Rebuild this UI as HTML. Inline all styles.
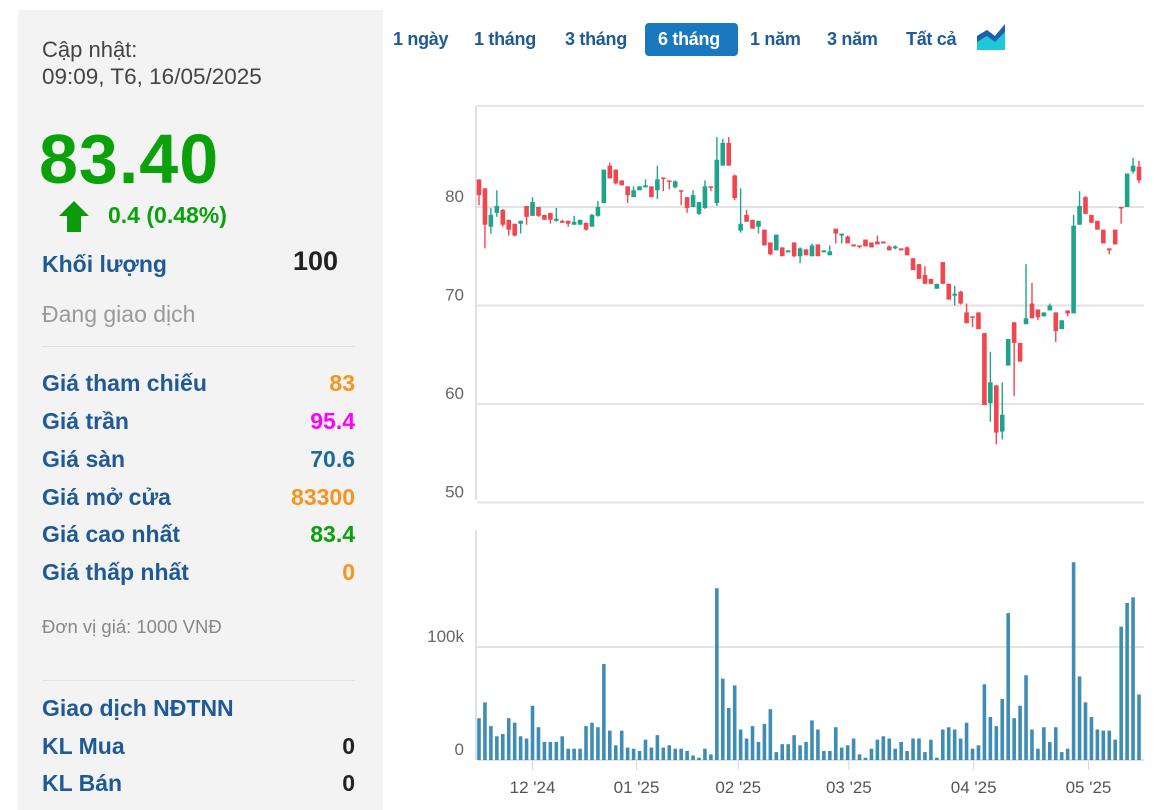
<!DOCTYPE html>
<html><head><meta charset="utf-8"><style>
body{margin:0;width:1164px;height:810px;background:#fff;font-family:"Liberation Sans",sans-serif;position:relative;overflow:hidden}
.a{position:absolute;white-space:nowrap}
#left{position:absolute;left:18px;top:10px;width:365px;height:800px;background:#f4f3f4}
.lbl{left:42px;font-size:23px;font-weight:bold;color:#1f5a96}
.val{right:809px;font-size:23px;font-weight:bold;text-align:right}
.btn{top:29px;font-size:18px;font-weight:bold;color:#1f5a96;letter-spacing:-0.3px}
</style></head><body>
<div id="left"></div>
<div class="a" style="left:42px;top:37px;font-size:22px;color:#444">Cập nhật:</div>
<div class="a" style="left:42px;top:64px;font-size:22.5px;color:#444">09:09, T6, 16/05/2025</div>
<div class="a" style="left:39px;top:119px;font-size:70px;font-weight:bold;color:#0aa10a;letter-spacing:1px">83.40</div>
<svg class="a" style="left:58px;top:200px" width="32" height="32"><polygon points="16,1 31,16 23,16 23,32 9,32 9,16 1,16" fill="#0a9a0a"/></svg>
<div class="a" style="left:108px;top:202px;font-size:23px;font-weight:bold;color:#0aa10a">0.4 (0.48%)</div>
<div class="a lbl" style="top:251px">Khối lượng</div>
<div class="a" style="right:826px;top:246px;font-size:27px;font-weight:bold;color:#222">100</div>
<div class="a" style="left:42px;top:301px;font-size:23px;color:#999">Đang giao dịch</div>
<div class="a" style="left:42px;top:346px;width:313px;height:1px;background:#e2e2e2"></div>
<div class="a lbl" style="top:370px">Giá tham chiếu</div>
<div class="a val" style="top:370px;color:#f7941d">83</div>
<div class="a lbl" style="top:408px">Giá trần</div>
<div class="a val" style="top:408px;color:#f0f">95.4</div>
<div class="a lbl" style="top:446px">Giá sàn</div>
<div class="a val" style="top:446px;color:#1a6a9a">70.6</div>
<div class="a lbl" style="top:484px">Giá mở cửa</div>
<div class="a val" style="top:484px;color:#f7941d">83300</div>
<div class="a lbl" style="top:521px">Giá cao nhất</div>
<div class="a val" style="top:521px;color:#0aa10a">83.4</div>
<div class="a lbl" style="top:559px">Giá thấp nhất</div>
<div class="a val" style="top:559px;color:#f7941d">0</div>
<div class="a" style="left:42px;top:616px;font-size:18.5px;color:#888">Đơn vị giá: 1000 VNĐ</div>
<div class="a" style="left:42px;top:680px;width:313px;height:1px;background:#e2e2e2"></div>
<div class="a lbl" style="top:695px">Giao dịch NĐTNN</div>
<div class="a lbl" style="top:733px">KL Mua</div>
<div class="a val" style="top:733px;color:#222">0</div>
<div class="a lbl" style="top:770px">KL Bán</div>
<div class="a val" style="top:770px;color:#222">0</div>

<div class="a btn" style="left:393px">1 ngày</div>
<div class="a btn" style="left:474px">1 tháng</div>
<div class="a btn" style="left:565px">3 tháng</div>
<div class="a" style="left:645px;top:23px;width:93px;height:33px;background:#1a78bf;border-radius:4px"></div>
<div class="a btn" style="left:658px;color:#fff">6 tháng</div>
<div class="a btn" style="left:750px">1 năm</div>
<div class="a btn" style="left:827px">3 năm</div>
<div class="a btn" style="left:906px">Tất cả</div>
<svg class="a" style="left:977px;top:22px" width="28" height="28"><polygon points="0,14 10,8 18,14 28,2 28,28 0,28" fill="#1ec8d8"/><polygon points="0,14 10,8 18,14 28,2 28,10 18,20 10,14 0,20" fill="#1f5fb0"/></svg>

<svg id="chart" class="a" style="left:0;top:0" width="1164" height="810"></svg>
<script>
const opens=[82.8,81.9,78.0,79.4,79.7,78.7,78.3,78.3,80.1,79.1,80.0,79.2,79.4,78.6,78.6,78.6,78.2,78.2,78.4,78.0,79.1,80.4,84.2,83.8,82.7,82.1,81.0,81.7,82.0,82.1,81.7,83.0,82.7,82.0,81.7,81.0,80.0,79.3,79.9,82.1,80.4,84.2,86.5,83.2,77.6,79.2,78.7,78.0,77.7,76.4,75.6,75.9,75.4,76.4,75.0,75.7,75.0,76.2,75.4,75.1,77.8,77.1,77.0,76.2,76.1,76.7,76.4,76.5,76.5,76.0,75.8,75.8,75.9,74.8,74.2,73.1,72.7,71.7,74.4,72.2,71.0,71.4,69.3,68.9,69.3,67.2,60.1,61.9,57.2,63.9,68.3,66.2,68.1,70.2,69.6,68.9,69.5,69.3,67.6,69.5,69.2,78.2,81.0,79.2,78.6,77.7,75.8,77.7,80.0,80.0,83.6,84.1];
const closes=[81.2,78.2,79.2,80.1,78.2,77.7,77.1,78.6,79.0,80.5,79.1,78.7,78.7,78.8,78.4,78.3,78.5,78.7,77.7,79.2,80.0,83.8,82.9,82.4,82.2,81.2,81.7,82.1,82.2,81.0,82.8,82.9,82.6,82.6,81.6,79.9,81.2,80.5,82.1,82.0,84.8,86.5,84.2,80.9,78.3,78.5,77.8,78.6,76.1,75.2,77.2,75.0,75.6,75.0,75.8,75.1,76.1,75.0,75.6,75.5,77.3,77.3,76.3,76.0,76.0,76.0,75.9,76.2,76.3,75.6,76.0,75.6,75.1,73.6,72.7,72.2,72.2,72.2,72.2,70.6,71.2,70.2,68.2,68.8,67.6,59.9,62.2,57.1,58.9,66.6,66.2,64.3,68.7,68.7,68.8,69.3,70.0,67.4,68.5,69.2,78.1,80.1,79.3,78.4,77.7,76.3,75.6,76.2,79.9,83.4,84.2,82.7];
const highs=[82.8,81.9,79.9,81.7,79.8,78.7,78.3,78.6,80.1,81.0,80.0,79.2,79.4,79.9,78.7,78.6,79.1,78.7,78.4,79.3,80.6,83.8,84.5,83.8,82.7,82.1,82.1,82.1,82.8,82.1,84.2,83.0,82.7,82.7,81.7,81.0,81.7,80.5,82.7,82.1,87.1,86.9,87.1,83.3,81.9,79.7,78.7,78.6,77.7,76.4,77.2,75.9,75.6,76.4,75.9,75.7,76.3,76.2,75.6,76.1,77.8,77.3,77.1,76.2,76.1,76.7,76.4,77.1,76.5,76.1,76.1,75.8,76.0,74.8,74.2,74.0,72.7,72.2,74.4,72.2,72.0,71.5,70.2,68.9,69.3,67.2,65.3,61.9,62.2,66.6,68.3,66.2,74.2,72.3,69.6,69.3,70.2,69.3,68.5,69.5,79.2,81.6,81.1,79.2,78.6,77.7,75.8,77.7,80.0,83.4,85.0,84.7];
const lows=[80.2,75.8,77.3,79.0,78.0,77.1,77.0,77.3,78.2,79.1,79.0,78.7,78.3,78.5,78.4,78.0,78.2,78.2,77.6,78.0,79.0,80.4,82.9,82.3,82.2,80.4,81.0,81.7,82.0,81.0,80.8,81.6,81.8,81.9,80.2,79.4,80.0,79.2,79.8,81.6,80.1,84.2,84.2,80.7,77.4,78.5,77.8,77.3,76.1,75.1,75.6,75.0,75.4,74.9,74.3,75.1,75.0,75.0,75.4,75.1,76.3,76.3,76.3,76.0,75.8,76.0,75.9,76.2,76.3,75.6,75.7,75.6,75.1,73.6,72.7,72.2,72.2,71.7,72.2,70.6,70.0,70.1,68.2,67.8,67.6,59.9,58.2,55.9,56.4,63.9,60.8,64.3,68.1,68.7,68.5,68.9,69.5,66.3,67.6,68.9,69.2,78.2,79.3,78.4,77.7,76.3,75.2,76.2,78.3,80.0,83.4,82.4];
const volumes=[37,51,30,21,23,37,33,21,19,48,29,16,16,16,21,10,10,10,30,33,29,85,26,13,26,11,10,8,18,11,22,11,13,10,10,8,4,2,10,5,152,72,46,66,27,19,30,16,32,45,7,14,14,22,13,16,35,27,8,8,29,11,13,19,5,2,10,18,21,19,10,16,8,19,19,7,18,2,27,29,27,19,33,10,13,67,38,30,54,130,37,48,75,27,10,29,16,29,7,10,175,74,51,38,27,26,26,18,118,139,144,58];
const priceTicks=[50,60,70,80];
const volTickVals=[0,100];
const volTickLabels=["0","100k"];
const monthLabels=["12 '24","01 '25","02 '25","03 '25","04 '25","05 '25"];
const monthIndex=[9,26.5,43.6,62.2,83.2,102.5];

const svg=document.getElementById('chart');const NS='http://www.w3.org/2000/svg';
const x=i=>479+i*5.946;
const py=p=>207+(80-p)*9.85;
const vy=v=>760-v*1.13;
function mk(t,a){const e=document.createElementNS(NS,t);for(const k in a)e.setAttribute(k,a[k]);svg.appendChild(e);return e;}
let e;
e=mk('line',{x1:476,y1:106,x2:1144,y2:106,stroke:'#e6e6ea','stroke-width':2});


e=mk('line',{x1:476,y1:106,x2:476,y2:500,stroke:'#dde0ea','stroke-width':2});


e=mk('line',{x1:476,y1:530,x2:476,y2:760,stroke:'#dde0ea','stroke-width':2});


priceTicks.forEach(p=>{
  const g=mk('line',{x1:477,y1:py(p),x2:1144,y2:py(p),stroke:'#e3e3e3','stroke-width':2});
  
  
  const t=mk('text',{x:464,y:py(p)-5,'text-anchor':'end','font-size':17,fill:'#666','font-family':'Liberation Sans'});
  t.textContent=p;
  
  
});
volTickVals.forEach((v,k)=>{
  const g=mk('line',{x1:477,y1:vy(v),x2:1144,y2:vy(v),stroke:'#e3e3e3','stroke-width':2});
  
  
  const t=mk('text',{x:464,y:vy(v)-5,'text-anchor':'end','font-size':17,fill:'#666','font-family':'Liberation Sans'});
  t.textContent=volTickLabels[k];
  
  
});
monthLabels.forEach((m,k)=>{
  const xx=x(monthIndex[k]);
  const l=mk('line',{x1:xx,y1:761,x2:xx,y2:770,stroke:'#ccd6eb','stroke-width':1});
  
  
  const t=mk('text',{x:xx,y:793,'text-anchor':'middle','font-size':17,fill:'#555','font-family':'Liberation Sans'});
  t.textContent=m;
  
  
});
volumes.forEach((v,i)=>{
  const r=mk('rect',{x:x(i)-1.8,y:vy(v),width:3.6,height:v*1.13,fill:'#3f8db5'});
  
  
});
opens.forEach((o,i)=>{
  const c=closes[i];const col=c>=o?'#1ea48c':'#f0474f';
  const w=mk('line',{x1:x(i),y1:py(highs[i]),x2:x(i),y2:py(lows[i]),stroke:col,'stroke-width':1.4});
  
  
  const top=py(Math.max(o,c)),bot=py(Math.min(o,c));
  const b=mk('rect',{x:x(i)-2.3,y:top,width:4.6,height:Math.max(bot-top,1.5),fill:col});
  
  
});
</script>
</body></html>
